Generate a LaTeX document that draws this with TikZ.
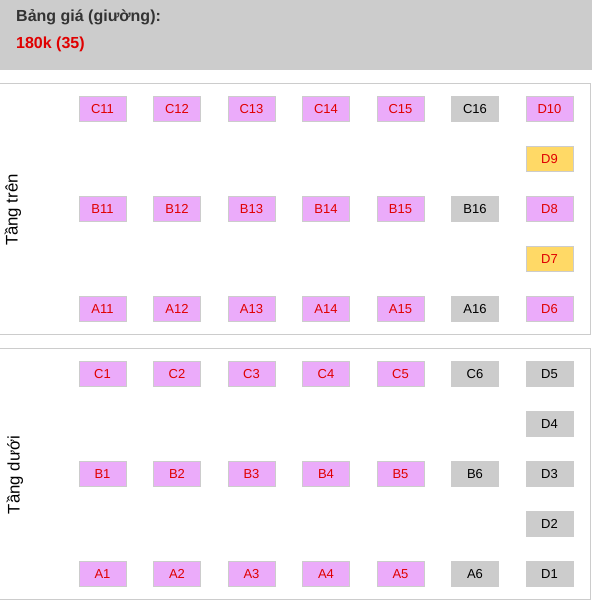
\documentclass[tikz,border=0pt]{standalone}
\usepackage{fontspec}
\setmainfont{Liberation Sans}
\definecolor{hdrgray}{HTML}{CCCCCC}
\definecolor{seatpink}{HTML}{EBABFA}
\definecolor{seatgray}{HTML}{CCCCCC}
\definecolor{seatyellow}{HTML}{FFD966}
\definecolor{seatred}{HTML}{E00000}
\definecolor{edgegray}{HTML}{CCCCCC}
\definecolor{darktext}{HTML}{333333}
\tikzset{
  seat/.style={rectangle, draw=edgegray, line width=0.8pt, minimum width=47pt, minimum height=25pt, inner sep=0pt, text height=9.3pt, text depth=0pt, font=\fontsize{13}{15}\selectfont},
  pinkseat/.style={seat, fill=seatpink, text=seatred},
  grayseat/.style={seat, fill=seatgray, text=black},
  yellowseat/.style={seat, fill=seatyellow, text=seatred},
  panelline/.style={draw=edgegray, line width=1pt},
  floorlabel/.style={rotate=90, font=\fontsize{16.8}{19}\selectfont, text=black},
  hdrtext/.style={anchor=base west, font=\fontsize{16}{18}\selectfont\bfseries, inner sep=0pt}
}
\begin{document}
\begin{tikzpicture}[x=1pt,y=-1pt]
\useasboundingbox (0,0) rectangle (592,600);
% header
\fill[hdrgray] (0,0) rectangle (592,70);
\node[hdrtext, text=darktext] (title) at (16,21.5) {Bảng giá (giường):};
\node[hdrtext, text=seatred] (price) at (16,48.5) {180k (35)};
% panels
\draw[panelline] (-2,83.5) -- (590.5,83.5) -- (590.5,334) -- (-2,334);
\draw[panelline] (-2,348) -- (590.5,348) -- (590.5,599) -- (-2,599);
\node[floorlabel] (upper) at (13,210) {Tầng trên};
\node[floorlabel] (lower) at (15,475) {Tầng dưới};
% upper floor
\foreach \i/\x in {11/102.5,12/177,13/251.5,14/326,15/400.5}{
  \node[pinkseat] (C\i) at (\x,108.5) {C\i};
  \node[pinkseat] (B\i) at (\x,208.5) {B\i};
  \node[pinkseat] (A\i) at (\x,308.5) {A\i};
}
\node[grayseat] (C16) at (475,108.5) {C16};
\node[grayseat] (B16) at (475,208.5) {B16};
\node[grayseat] (A16) at (475,308.5) {A16};
\node[pinkseat] (D10) at (549.5,108.5) {D10};
\node[yellowseat] (D9) at (549.5,158.5) {D9};
\node[pinkseat] (D8) at (549.5,208.5) {D8};
\node[yellowseat] (D7) at (549.5,258.5) {D7};
\node[pinkseat] (D6) at (549.5,308.5) {D6};
% lower floor
\foreach \i/\x in {1/102.5,2/177,3/251.5,4/326,5/400.5}{
  \node[pinkseat] (C\i) at (\x,373.5) {C\i};
  \node[pinkseat] (B\i) at (\x,473.5) {B\i};
  \node[pinkseat] (A\i) at (\x,573.5) {A\i};
}
\node[grayseat] (C6) at (475,373.5) {C6};
\node[grayseat] (B6) at (475,473.5) {B6};
\node[grayseat] (A6) at (475,573.5) {A6};
\node[grayseat] (D5) at (549.5,373.5) {D5};
\node[grayseat] (D4) at (549.5,423.5) {D4};
\node[grayseat] (D3) at (549.5,473.5) {D3};
\node[grayseat] (D2) at (549.5,523.5) {D2};
\node[grayseat] (D1) at (549.5,573.5) {D1};
\end{tikzpicture}
\end{document}
